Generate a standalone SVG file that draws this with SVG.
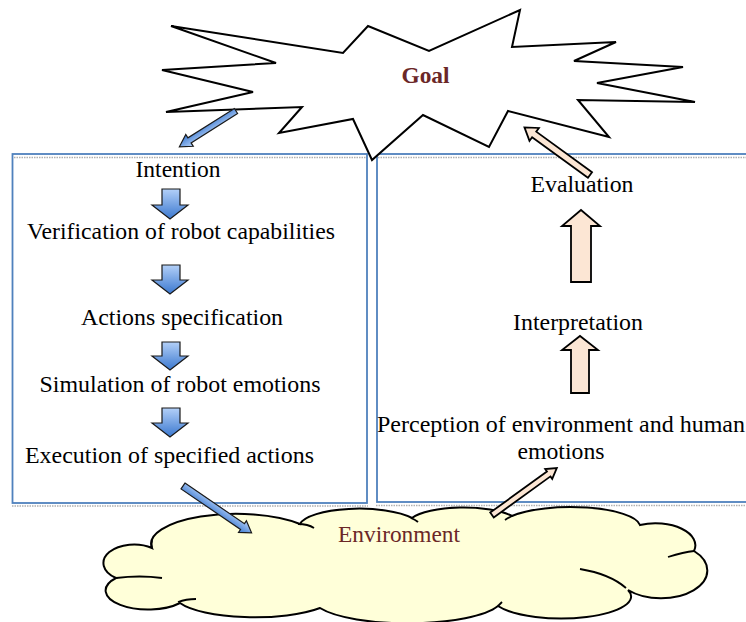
<svg xmlns="http://www.w3.org/2000/svg" width="746" height="622" viewBox="0 0 746 622">
<style>
.box{fill:#ffffff;stroke:#4f81bd;stroke-width:1.8}
.shadow{stroke:#b0b0b0;stroke-width:1.5;stroke-dasharray:1.5 1;fill:none}
.t{font-family:"Liberation Serif","Times New Roman",Times,serif;font-size:23px;fill:#000}
.red{fill:#6b2727}
.blue{fill:url(#gb);stroke:#1a1a1a;stroke-width:1.2;stroke-linejoin:miter}
.peach{fill:#fce6d4;stroke:#000;stroke-width:1.8;stroke-linejoin:miter}
.tick{fill:none;stroke:#000;stroke-width:1.8}
</style>
<defs>
<linearGradient id="gb" x1="0" y1="0" x2="0" y2="1">
<stop offset="0" stop-color="#b3d0f8"/>
<stop offset="1" stop-color="#3b78cf"/>
</linearGradient>
</defs>

<g id="left-box">
<rect class="box" x="12.5" y="154" width="354.5" height="349"/>
<line class="shadow" x1="14" y1="157.5" x2="366" y2="157.5"/>
<line class="shadow" x1="12" y1="506" x2="368" y2="506"/>
</g>
<g id="right-box">
<rect class="box" x="377" y="154" width="400" height="348"/>
<line class="shadow" x1="378" y1="157.5" x2="746" y2="157.5"/>
<line class="shadow" x1="376" y1="505.5" x2="746" y2="505.5"/>
</g>

<g id="goal">
<polygon points="171,26 343,53 368,26 429,51 520,10 512,47 616,42 574,61 683,67 597,83 695,102 578,100 609,137 508,111 489,147 423,115 372,160 353,119 279,133 302,107 166,112 253,92 162,70 276,63" fill="#fff" stroke="#000" stroke-width="2" stroke-linejoin="miter"/>
<text class="t red" x="401.5" y="83" font-weight="bold" textLength="48" lengthAdjust="spacingAndGlyphs">Goal</text>
</g>

<g id="environment">
<path d="M152,548 A85,30 0 0 1 300,524 A60,18 0 0 1 412,518 A55,16 0 0 1 512,516 A70,20 0 0 1 640,525 A40,22 0 0 1 694,551 A40,24 0 0 1 628,590 A70,22 0 0 1 498,606 A95,25 0 0 1 320,608 A80,22 0 0 1 180,603 A40,18 0 0 1 116,578 A28,17 0 0 1 152,548 Z" fill="#ffffd9" stroke="#000" stroke-width="2"/>
<path class="tick" d="M298,524 Q308,524 314,528"/>
<path class="tick" d="M411,518 Q416,520 418,522"/>
<path class="tick" d="M512,516 Q508,518 505,520"/>
<path class="tick" d="M580,569 Q610,574 626,588"/>
<path class="tick" d="M668,557 Q684,552 694,551"/>
<path class="tick" d="M498,606 Q500,604 502,602"/>
<path class="tick" d="M178,602 Q186,599 196,599"/>
<path class="tick" d="M116,578 Q140,575 162,578"/>
<path class="tick" d="M152,548 Q151,544 152,540"/>
<text class="t red" x="338" y="542" textLength="122" lengthAdjust="spacingAndGlyphs">Environment</text>
</g>

<g id="intention"><text class="t" x="135.5" y="177" textLength="85" lengthAdjust="spacingAndGlyphs">Intention</text></g>
<g id="verification"><text class="t" x="27" y="239" textLength="308" lengthAdjust="spacingAndGlyphs">Verification of robot capabilities</text></g>
<g id="actions"><text class="t" x="81" y="325" textLength="202" lengthAdjust="spacingAndGlyphs">Actions specification</text></g>
<g id="simulation"><text class="t" x="39.5" y="392" textLength="281" lengthAdjust="spacingAndGlyphs">Simulation of robot emotions</text></g>
<g id="execution"><text class="t" x="25" y="463" textLength="289" lengthAdjust="spacingAndGlyphs">Execution of specified actions</text></g>
<g id="evaluation"><text class="t" x="530.5" y="192" textLength="103" lengthAdjust="spacingAndGlyphs">Evaluation</text></g>
<g id="interpretation"><text class="t" x="513" y="330" textLength="130" lengthAdjust="spacingAndGlyphs">Interpretation</text></g>
<g id="perception">
<text class="t" x="377" y="432" textLength="368" lengthAdjust="spacingAndGlyphs">Perception of environment and human</text>
<text class="t" x="517.5" y="459" textLength="87" lengthAdjust="spacingAndGlyphs">emotions</text>
</g>

<g id="connectors">
<path class="blue" d="M162,189 H180 V205 H188 L170,219 L152,205 H162 Z"/>
<path class="blue" d="M162,265 H180 V280 H188 L170,294 L152,280 H162 Z"/>
<path class="blue" d="M162,342 H180 V356 H188 L170,370 L152,356 H162 Z"/>
<path class="blue" d="M162,408 H180 V423 H188 L170,437 L152,423 H162 Z"/>
<path class="peach" d="M571,282 V226 H562 L581,210 L600,226 H591 V282 Z"/>
<path class="peach" d="M571,393 V350 H562 L580,336 L598,350 H589 V393 Z"/>
<path class="blue" transform="translate(236,111) rotate(147.7)" d="M0,-3 H55 V-7 L67,0 L55,7 V3 H0 Z"/>
<path class="peach" transform="translate(590,175) rotate(-144)" d="M0,-3.5 H69 V-8 L81,0 L69,8 V3.5 H0 Z"/>
<path class="blue" transform="translate(183,486) rotate(34.3)" d="M0,-3.5 H72 V-7 L83,0 L72,7 V3.5 H0 Z"/>
<path class="peach" transform="translate(492,515) rotate(-35.9)" d="M0,-3 H70 V-6 L80,0 L70,6 V3 H0 Z"/>
</g>
</svg>
